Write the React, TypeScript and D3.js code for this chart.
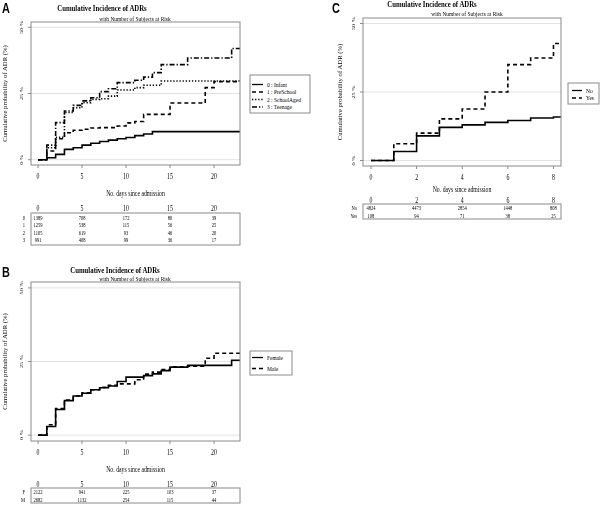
import React from 'react';
import * as d3 from 'd3';

// ---------- Panel A: age groups ----------
const daysA = [0, 1, 2, 3, 4, 5, 6, 7, 8, 9, 10, 11, 12, 13, 14, 15, 16, 17, 18, 19, 20, 21, 22];
const infantPct = [0, 0.75, 2.0, 3.9, 4.5, 5.5, 6.2, 6.9, 7.4, 7.9, 8.4, 9.1, 9.7, 10.6, 10.6, 10.6, 10.6, 10.6, 10.6, 10.6, 10.6, 10.6, 10.6];
const preschoolPct = [0, 3.3, 7.9, 10.2, 11.1, 11.5, 12.0, 12.1, 12.1, 12.7, 13.9, 14.4, 17.1, 17.1, 17.1, 21.4, 21.4, 21.4, 21.4, 27.2, 29.5, 29.5, 29.5];
const schoolagedPct = [0, 4.5, 8.5, 17.8, 19.6, 21.5, 22.8, 23.0, 24.0, 26.3, 26.3, 27.2, 28.1, 28.1, 29.7, 29.7, 29.7, 29.7, 29.7, 29.7, 29.7, 29.7, 29.7];
const teenagePct = [0, 5.5, 14.0, 18.4, 20.5, 22.2, 23.4, 25.7, 26.8, 29.1, 29.1, 30.0, 31.2, 32.9, 35.9, 35.9, 35.9, 38.4, 38.4, 38.4, 38.4, 38.4, 42.0];
const ticksA = [0, 5, 10, 15, 20];
const legendA = ['0 : Infant', '1 : PreSchool', '2 : SchoolAged', '3 : Teenage'];
const riskRowLabelsA = ['0', '1', '2', '3'];
const riskInfant = [1389, 708, 172, 80, 39];
const riskPreschool = [1259, 538, 115, 56, 25];
const riskSchoolaged = [1105, 619, 93, 46, 20];
const riskTeenage = [991, 408, 99, 36, 17];

// ---------- Panel B: sex ----------
const daysB = [0, 1, 2, 3, 4, 5, 6, 7, 8, 9, 10, 11, 12, 13, 14, 15, 16, 17, 18, 19, 20, 21, 22];
const femalePct = [0, 2.9, 8.7, 11.7, 13.3, 14.2, 15.4, 16.1, 16.7, 18.2, 19.7, 19.7, 20.2, 20.8, 21.9, 23.1, 23.1, 23.7, 23.7, 23.7, 23.7, 23.7, 25.4];
const malePct = [0, 3.5, 9.0, 11.9, 13.3, 14.4, 15.4, 16.2, 16.9, 17.4, 17.4, 18.8, 20.7, 21.4, 22.3, 23.2, 23.2, 23.4, 23.4, 26.1, 27.8, 27.8, 27.8];
const ticksB = [0, 5, 10, 15, 20];
const legendB = ['Female', 'Male'];
const riskRowLabelsB = ['F', 'M'];
const riskFemale = [2122, 941, 225, 103, 37];
const riskMale = [2682, 1132, 254, 115, 44];

// ---------- Panel C: yes/no ----------
const daysC = [0, 1, 2, 3, 4, 5, 6, 7, 8];
const noPct = [0, 3.3, 9.0, 12.1, 13.0, 13.9, 14.6, 15.5, 15.9];
const yesPct = [0, 6.1, 10.0, 15.2, 18.8, 25.0, 35.0, 37.4, 42.7];
const ticksC = [0, 2, 4, 6, 8];
const legendC = ['No', 'Yes'];
const riskRowLabelsC = ['No', 'Yes'];
const riskNo = [4824, 4473, 2854, 1448, 808];
const riskYes = [108, 94, 71, 38, 25];

const yTicks = [0, 25, 50];
const yTickLabels = ['0 %', '25 %', '50 %'];
const TITLE = 'Cumulative Incidence of ADRs';
const SUBTITLE = 'with Number of Subjects at Risk';
const XTITLE = 'No. days since admission';
const YTITLE = 'Cumulative probability of ADR (%)';

const SERIF = '"Liberation Serif", "Times New Roman", Times, serif';
const SANS = '"Liberation Sans", Arial, Helvetica, sans-serif';
const SX = 0.78;

function T({ x, y, size, children, anchor = 'middle', weight = 'normal', family = SERIF, rotate = false }: any) {
  const tr = rotate
    ? `translate(${x},${y}) rotate(-90) scale(1,${SX})`
    : `translate(${x},${y}) scale(${SX},1)`;
  return (
    <text transform={tr} fontSize={size} textAnchor={anchor} fontWeight={weight} fontFamily={family} fill="#000">
      {children}
    </text>
  );
}

const DASH: Record<string, string | undefined> = {
  solid: undefined,
  dashed: '4,3',
  dotted: '1.3,1.8',
  dashdot: '5,2,1.3,2',
};

function Panel({ cfg }: any) {
  const { box, xDomain, ticks, series, legend, table } = cfg;
  const xs = d3.scaleLinear().domain(xDomain).range([box.x0, box.x1]);
  const ys = d3.scaleLinear().domain([-2, 52]).range([box.y1, box.y0]);
  const line = d3
    .line<[number, number]>()
    .x((d) => xs(d[0]))
    .y((d) => ys(d[1]))
    .curve(d3.curveStepAfter);
  const clipId = `clip-${cfg.id}`;
  const yMid = (ys(0) + ys(50)) / 2;
  const xMid = (box.x0 + box.x1) / 2;
  return (
    <g>
      <defs>
        <clipPath id={clipId}>
          <rect x={box.x0} y={box.y0} width={box.x1 - box.x0} height={box.y1 - box.y0} />
        </clipPath>
      </defs>
      <T x={cfg.letter.x} y={cfg.letter.y} size={14} anchor="start" weight="bold" family={SANS}>
        {cfg.letter.text}
      </T>
      <T x={cfg.title.x} y={cfg.title.y} size={8.7} weight="bold">
        {TITLE}
      </T>
      <T x={cfg.subtitle.x} y={cfg.subtitle.y} size={7}>
        {SUBTITLE}
      </T>
      {yTicks.map((t) => (
        <line key={'g' + t} x1={box.x0} x2={box.x1} y1={ys(t)} y2={ys(t)} stroke="#e2e2e2" strokeWidth={1} />
      ))}
      <g clipPath={`url(#${clipId})`}>
        {series.map((s: any, i: number) => {
          const pts: [number, number][] = s.days.map((d: number, j: number) => [d, s.values[j]]);
          pts.push([xDomain[1] + 1, s.values[s.values.length - 1]]);
          return (
            <path
              key={i}
              d={line(pts) || ''}
              fill="none"
              stroke="#000"
              strokeWidth={1.6}
              strokeDasharray={DASH[s.dash]}
            />
          );
        })}
      </g>
      <rect x={box.x0} y={box.y0} width={box.x1 - box.x0} height={box.y1 - box.y0} fill="none" stroke="#8a8a8a" strokeWidth={1} />
      {yTicks.map((t, i) => (
        <g key={'y' + t}>
          <line x1={box.x0 - 3} x2={box.x0} y1={ys(t)} y2={ys(t)} stroke="#8a8a8a" />
          <T x={cfg.yTickLabelX} y={ys(t)} size={6.3} rotate>
            {yTickLabels[i]}
          </T>
        </g>
      ))}
      <T x={cfg.yTitleX} y={yMid} size={6.7} rotate>
        {YTITLE}
      </T>
      {ticks.map((t: number) => (
        <g key={'x' + t}>
          <line x1={xs(t)} x2={xs(t)} y1={box.y1} y2={box.y1 + 3} stroke="#8a8a8a" />
          <T x={xs(t)} y={cfg.tickLabelY} size={7.5}>
            {String(t)}
          </T>
        </g>
      ))}
      <T x={xMid} y={cfg.axisTitleY} size={7.4}>
        {XTITLE}
      </T>
      <rect x={legend.x} y={legend.y} width={legend.w} height={legend.h} fill="#fff" stroke="#8a8a8a" />
      {series.map((s: any, i: number) => (
        <g key={'l' + i}>
          <line
            x1={legend.lineX0}
            x2={legend.lineX1}
            y1={legend.rowY[i]}
            y2={legend.rowY[i]}
            stroke="#000"
            strokeWidth={1.3}
            strokeDasharray={DASH[s.dash]}
          />
          <T x={legend.textX} y={legend.rowY[i] + 2.2} size={7} anchor="start">
            {s.label}
          </T>
        </g>
      ))}
      {ticks.map((t: number) => (
        <T key={'h' + t} x={xs(t)} y={table.headerY} size={7.5}>
          {String(t)}
        </T>
      ))}
      <rect x={box.x0} y={table.top} width={box.x1 - box.x0} height={table.bottom - table.top} fill="none" stroke="#8a8a8a" />
      {series.map((s: any, i: number) => (
        <g key={'r' + i}>
          <T x={table.labelX} y={table.rowY[i] + 2} size={5.8} anchor="end">
            {s.riskLabel}
          </T>
          {ticks.map((t: number, j: number) => (
            <T key={j} x={xs(t)} y={table.rowY[i] + 2} size={5.8}>
              {String(s.risk[j])}
            </T>
          ))}
        </g>
      ))}
    </g>
  );
}

const panelA = {
  id: 'a',
  box: { x0: 31, x1: 240, y0: 22, y1: 165 },
  xDomain: [-0.8, 22.95],
  ticks: ticksA,
  tickLabelY: 179,
  axisTitleY: 195.5,
  title: { x: 102, y: 11 },
  subtitle: { x: 135, y: 21 },
  letter: { x: 2, y: 13, text: 'A' },
  yTickLabelX: 23,
  yTitleX: 7,
  series: [
    { days: daysA, values: infantPct, dash: 'solid', label: legendA[0], riskLabel: riskRowLabelsA[0], risk: riskInfant },
    { days: daysA, values: preschoolPct, dash: 'dashed', label: legendA[1], riskLabel: riskRowLabelsA[1], risk: riskPreschool },
    { days: daysA, values: schoolagedPct, dash: 'dotted', label: legendA[2], riskLabel: riskRowLabelsA[2], risk: riskSchoolaged },
    { days: daysA, values: teenagePct, dash: 'dashdot', label: legendA[3], riskLabel: riskRowLabelsA[3], risk: riskTeenage },
  ],
  legend: { x: 250, y: 75, w: 60, h: 38, rowY: [84.5, 92, 99.5, 107], lineX0: 252, lineX1: 263, textX: 267 },
  table: { top: 213, bottom: 245, headerY: 211, rowY: [217.5, 225, 232.5, 240], labelX: 25 },
};

const panelB = {
  id: 'b',
  box: { x0: 31, x1: 240, y0: 282, y1: 441 },
  xDomain: [-0.8, 22.95],
  ticks: ticksB,
  tickLabelY: 455,
  axisTitleY: 471.5,
  title: { x: 115, y: 273 },
  subtitle: { x: 135, y: 280.5 },
  letter: { x: 2, y: 277, text: 'B' },
  yTickLabelX: 23,
  yTitleX: 7,
  series: [
    { days: daysB, values: femalePct, dash: 'solid', label: legendB[0], riskLabel: riskRowLabelsB[0], risk: riskFemale },
    { days: daysB, values: malePct, dash: 'dashed', label: legendB[1], riskLabel: riskRowLabelsB[1], risk: riskMale },
  ],
  legend: { x: 250, y: 351, w: 42, h: 24, rowY: [357.5, 368.5], lineX0: 252, lineX1: 263, textX: 267 },
  table: { top: 488, bottom: 503, headerY: 486.5, rowY: [492, 499.5], labelX: 25 },
};

const panelC = {
  id: 'c',
  box: { x0: 363, x1: 561, y0: 18, y1: 166 },
  xDomain: [-0.35, 8.33],
  ticks: ticksC,
  tickLabelY: 180,
  axisTitleY: 191.5,
  title: { x: 432, y: 6.5 },
  subtitle: { x: 467, y: 16 },
  letter: { x: 332, y: 13, text: 'C' },
  yTickLabelX: 355,
  yTitleX: 342,
  series: [
    { days: daysC, values: noPct, dash: 'solid', label: legendC[0], riskLabel: riskRowLabelsC[0], risk: riskNo },
    { days: daysC, values: yesPct, dash: 'dashed', label: legendC[1], riskLabel: riskRowLabelsC[1], risk: riskYes },
  ],
  legend: { x: 568, y: 83, w: 31, h: 21, rowY: [90.5, 98], lineX0: 572, lineX1: 582, textX: 586 },
  table: { top: 204, bottom: 219, headerY: 203, rowY: [208, 215.5], labelX: 357 },
};

export default function App() {
  return (
    <svg
      width={600}
      height={505}
      viewBox="0 0 600 505"
      style={{ position: 'absolute', left: 0, top: 0, background: '#fff' }}
    >
      <rect x={0} y={0} width={600} height={505} fill="#fff" />
      <g opacity={0.999}>
        <Panel cfg={panelA} />
        <Panel cfg={panelB} />
        <Panel cfg={panelC} />
      </g>
    </svg>
  );
}
